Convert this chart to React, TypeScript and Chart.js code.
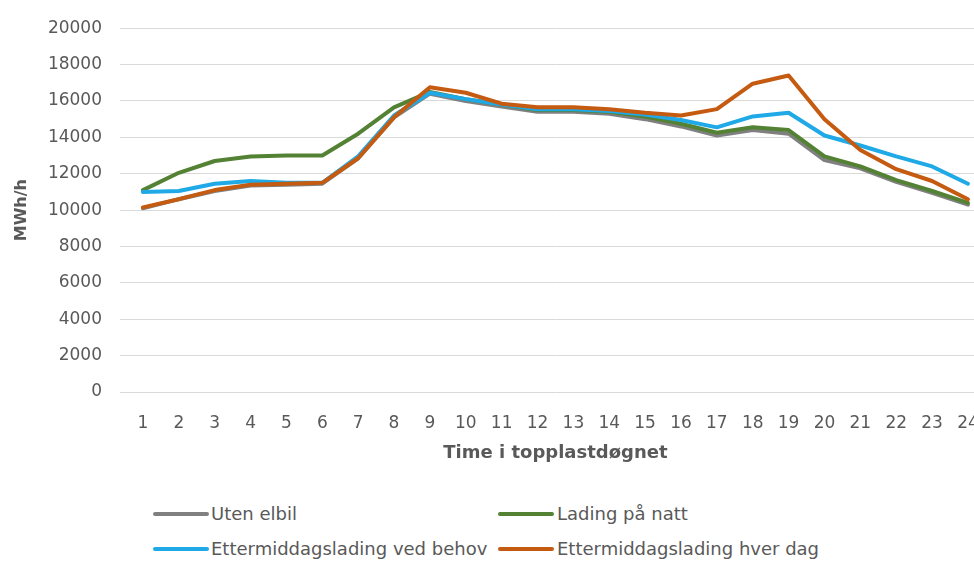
import React, { useEffect, useRef } from "react";
import { Chart, registerables } from "chart.js";

Chart.register(...registerables);

const hours = ["1", "2", "3", "4", "5", "6", "7", "8", "9", "10", "11", "12", "13", "14", "15", "16", "17", "18", "19", "20", "21", "22", "23", "24"];

const utenElbil = [10100, 10600, 11050, 11350, 11400, 11450, 12850, 15100, 16400, 16000, 15700, 15400, 15400, 15300, 15000, 14600, 14100, 14400, 14200, 12750, 12300, 11550, 10950, 10300];
const ladingPaNatt = [11100, 12050, 12700, 12950, 13000, 13000, 14200, 15650, 16500, 16100, 15800, 15500, 15500, 15400, 15150, 14750, 14250, 14550, 14400, 12950, 12400, 11650, 11050, 10400];
const ettermiddagVedBehov = [11000, 11050, 11450, 11600, 11500, 11500, 12950, 15200, 16450, 16100, 15800, 15550, 15550, 15450, 15250, 14950, 14550, 15150, 15350, 14100, 13550, 12950, 12400, 11450];
const ettermiddagHverDag = [10150, 10600, 11100, 11400, 11450, 11500, 12850, 15100, 16750, 16450, 15850, 15650, 15650, 15550, 15350, 15200, 15550, 16950, 17400, 15000, 13300, 12250, 11600, 10600];

const yTicks = { min: 0, max: 20000, step: 2000 };

const seriesNames = ["Uten elbil", "Lading på natt", "Ettermiddagslading ved behov", "Ettermiddagslading hver dag"];
const seriesColors = ["#808080", "#548235", "#1fa9e6", "#c55a11"];

const FONT = "'DejaVu Sans', sans-serif";
const TEXT = "#595959";

export default function App() {
  const ref = useRef<HTMLCanvasElement | null>(null);

  useEffect(() => {
    if (!ref.current) return;
    const data = [utenElbil, ladingPaNatt, ettermiddagVedBehov, ettermiddagHverDag];
    const chart = new Chart(ref.current, {
      type: "line",
      data: {
        labels: hours,
        datasets: data.map((d, i) => ({
          label: seriesNames[i],
          data: d,
          borderColor: seriesColors[i],
          backgroundColor: seriesColors[i],
          borderWidth: 4,
          pointRadius: 0,
          tension: 0,
          fill: false,
          order: 3 - i,
          borderCapStyle: "round" as const,
          borderJoinStyle: "round" as const,
        })),
      },
      options: {
        responsive: false,
        animation: false,
        devicePixelRatio: 1,
        layout: { padding: { top: 21, right: 11, left: 0, bottom: 0 } },
        plugins: { legend: { display: false }, tooltip: { enabled: false } },
        scales: {
          x: {
            offset: true,
            grid: { display: false, drawTicks: false },
            border: { display: false },
            ticks: {
              padding: 21,
              color: TEXT,
              autoSkip: false,
              maxRotation: 0,
              font: { family: FONT, size: 17 },
            },
            title: {
              display: true,
              text: "Time i topplastdøgnet",
              color: TEXT,
              font: { family: FONT, size: 18, weight: "bold" },
              padding: { top: 0, bottom: 16 },
            },
            afterFit: (s: any) => {
              s.height = 88;
            },
          },
          y: {
            min: yTicks.min,
            max: yTicks.max,
            ticks: {
              stepSize: yTicks.step,
              padding: 18,
              color: TEXT,
              font: { family: FONT, size: 17 },
              callback: (v: any) => String(v),
            },
            grid: { color: "#d9d9d9", lineWidth: 1, tickLength: 5 },
            border: { display: false },
            title: {
              display: true,
              text: "MWh/h",
              color: TEXT,
              font: { family: FONT, size: 16, weight: "bold" },
              padding: { top: 12, bottom: 0 },
            },
            afterFit: (s: any) => {
              s.width = 125;
            },
          },
        },
      },
    });
    return () => chart.destroy();
  }, []);

  const legendItems = [
    { i: 0, lineLeft: 153, textLeft: 211, y: 514 },
    { i: 1, lineLeft: 498, textLeft: 557, y: 514 },
    { i: 2, lineLeft: 153, textLeft: 211, y: 549 },
    { i: 3, lineLeft: 498, textLeft: 557, y: 549 },
  ];

  return (
    <div
      style={{
        position: "absolute",
        left: 0,
        top: 0,
        width: 974,
        height: 561,
        overflow: "hidden",
        background: "#ffffff",
      }}
    >
      <canvas ref={ref} width={1000} height={480} style={{ position: "absolute", left: 0, top: 0 }} />
      {legendItems.map((it) => (
        <React.Fragment key={it.i}>
          <div
            style={{
              position: "absolute",
              left: it.lineLeft,
              top: it.y - 2,
              width: 56,
              height: 4,
              background: seriesColors[it.i],
              borderRadius: 2,
            }}
          />
          <div
            style={{
              position: "absolute",
              left: it.textLeft,
              top: it.y - 12,
              height: 24,
              lineHeight: "24px",
              fontFamily: FONT,
              fontSize: 18,
              color: TEXT,
              whiteSpace: "nowrap",
            }}
          >
            {seriesNames[it.i]}
          </div>
        </React.Fragment>
      ))}
    </div>
  );
}
